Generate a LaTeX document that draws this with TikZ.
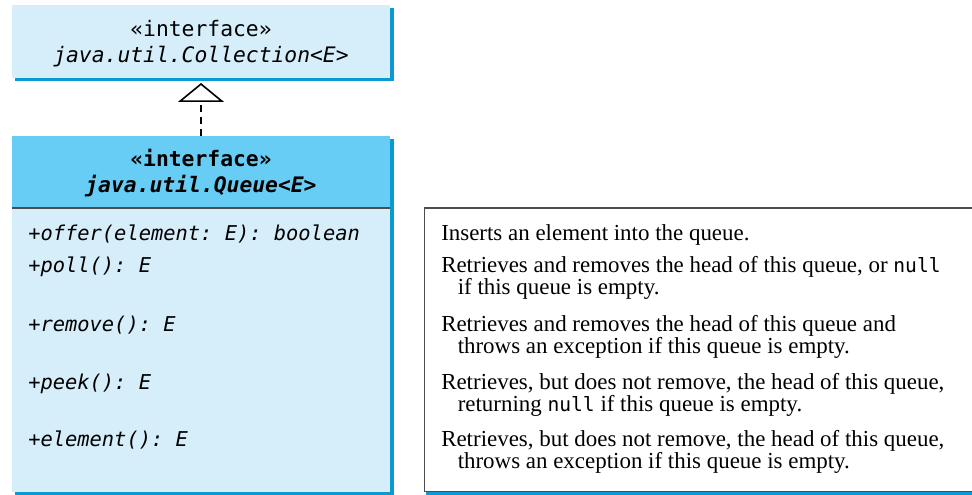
\documentclass[tikz,border=0pt]{standalone}
\usepackage{fontspec}
\setmainfont{Liberation Serif}
\setmonofont{DejaVu Sans Mono}
\usetikzlibrary{arrows.meta}
\definecolor{lightblue}{HTML}{D6EEFA}
\definecolor{headblue}{HTML}{67CDF4}
\definecolor{shadowblue}{HTML}{0A9AD2}
\definecolor{linegray}{HTML}{4D4D4D}
\tikzset{
  classbox/.style={rectangle, inner sep=0pt, outer sep=0pt, anchor=north west, minimum width=283.5pt},
  methodtext/.style={font=\ttfamily\fontsize{15.3}{18}\selectfont\itshape, anchor=base west, inner sep=0pt},
  stereo/.style={font=\ttfamily\fontsize{16}{19}\selectfont, anchor=base, inner sep=0pt},
  stereobold/.style={font=\ttfamily\bfseries\fontsize{16}{19}\selectfont, anchor=base, inner sep=0pt},
  classname/.style={font=\ttfamily\itshape\fontsize{16}{19}\selectfont, anchor=base, inner sep=0pt},
  classnamebold/.style={font=\ttfamily\bfseries\itshape\fontsize{16}{19}\selectfont, anchor=base, inner sep=0pt},
  desctext/.style={font=\fontsize{17.2}{17}\selectfont, anchor=base west, inner sep=0pt},
}
\newcommand{\nulltxt}{{\ttfamily\fontsize{14.7}{16}\selectfont null}}
\begin{document}
\begin{tikzpicture}[x=0.75pt,y=-0.75pt]
\useasboundingbox (0,0) rectangle (972,495);
% shadows
\fill[shadowblue] (15,8) rectangle (394,81.5);
\fill[shadowblue] (15,139) rectangle (394,495);
% class boxes
\node[classbox, fill=lightblue, minimum height=54.75pt] (coll) at (12,5) {};
\node[classbox, fill=headblue, minimum height=54pt] (queue) at (12,136) {};
\node[classbox, fill=lightblue, minimum height=213pt] (qbody) at (12,208) {};
\draw[linegray, line width=0.8pt] (queue.south west) -- (queue.south east);
% headers
\node[stereo] (ci) at (201,37) {«interface»};
\node[classname] (cn) at (201,63) {java.util.Collection<E>};
\node[stereobold] (qi) at (201,167) {«interface»};
\node[classnamebold] (qn) at (201,193) {java.util.Queue<E>};
% realization connector
\draw[line width=1.4pt, dash pattern=on 5.25pt off 3.75pt,
  -{Triangle[open, length=14.25pt, width=34.5pt, line width=1.2pt]},
  shorten >=3.75pt] (queue.north) -- (coll.south);
% methods
\node[methodtext] (m1) at (28,241) {+offer(element: E): boolean};
\node[methodtext] (m2) at (28,273) {+poll(): E};
\node[methodtext] (m3) at (28,332) {+remove(): E};
\node[methodtext] (m4) at (28,390) {+peek(): E};
\node[methodtext] (m5) at (28,447) {+element(): E};
% description box
\draw[linegray, line width=0.8pt] (972,208) -- (424.5,208) -- (424.5,491.5) -- (972,491.5);
\fill[shadowblue] (426,492) rectangle (972,495);
\node[desctext] (d1) at (441,241) {Inserts an element into the queue.};
\node[desctext] (d2a) at (441,273) {Retrieves and removes the head of this queue, or \nulltxt};
\node[desctext] (d2b) at (457.5,295) {if this queue is empty.};
\node[desctext] (d3a) at (441,332) {Retrieves and removes the head of this queue and};
\node[desctext] (d3b) at (457.5,354) {throws an exception if this queue is empty.};
\node[desctext] (d4a) at (441,390) {Retrieves, but does not remove, the head of this queue,};
\node[desctext] (d4b) at (457.5,412) {returning \nulltxt{} if this queue is empty.};
\node[desctext] (d5a) at (441,447) {Retrieves, but does not remove, the head of this queue,};
\node[desctext] (d5b) at (457.5,469) {throws an exception if this queue is empty.};
\end{tikzpicture}
\end{document}
